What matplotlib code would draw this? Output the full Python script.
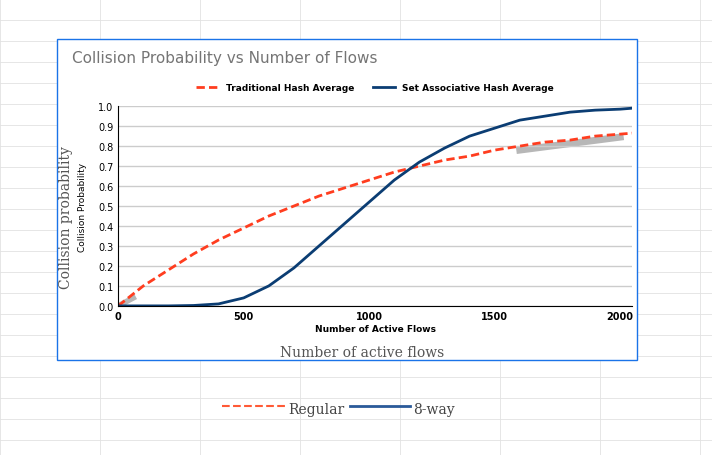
import numpy as np
import matplotlib.pyplot as plt
from matplotlib.patches import Rectangle

flows = [0, 100, 200, 300, 400, 500, 600, 700, 800, 900, 1000, 1100, 1200,
         1300, 1400, 1500, 1600, 1700, 1800, 1900, 2000, 2050]
traditional = [0, .10, .18, .26, .33, .39, .45, .50, .55, .59, .63, .67, .70,
               .73, .75, .78, .80, .82, .83, .85, .86, .865]
set_assoc = [0, 0, 0, .002, .01, .04, .10, .19, .30, .41, .52, .63, .72,
             .79, .85, .89, .93, .95, .97, .98, .985, .99]
yticks = [0, .1, .2, .3, .4, .5, .6, .7, .8, .9, 1.0]
xticks = [0, 500, 1000, 1500, 2000]

fig = plt.figure(figsize=(7.12, 4.56), dpi=100)

# spreadsheet grid behind everything
for y in range(0, 456, 21):
    fig.add_artist(plt.Line2D([0, 1], [1 - y / 456] * 2, color='#e2e2e2', lw=0.6, zorder=-3))
for x in [0, 100, 200, 300, 400, 500, 600, 700]:
    fig.add_artist(plt.Line2D([x / 712] * 2, [0, 1], color='#e2e2e2', lw=0.6, zorder=-3))

# chart card
fig.add_artist(Rectangle((57 / 712, 1 - 361 / 456), 580 / 712, 321 / 456,
                         transform=fig.transFigure, fc='white', ec='#1a73e8', lw=1,
                         zorder=-2))
fig.text(72 / 712, 1 - 63 / 456, "Collision Probability vs Number of Flows",
         fontsize=11, color='#757575')

ax = fig.add_axes([0.166, 0.327, 0.722, 0.438])
ax.set_facecolor('none')
ax.plot(flows, traditional, color='#ff3d1f', lw=2, ls='--', dashes=(3, 1.5),
        label='Traditional Hash Average')
ax.plot(flows, set_assoc, color='#0b3d73', lw=2, label='Set Associative Hash Average')
ax.plot([1600, 2000], [.78, .845], color='#999999', lw=5, alpha=0.7, zorder=1)
ax.plot([0, 60], [0, .04], color='#999999', lw=4, alpha=0.7, zorder=1)
ax.set_xlim(0, 2048)
ax.set_ylim(0, 1.0)
ax.set_xticks(xticks)
ax.set_yticks(yticks)
ax.set_xticklabels([str(t) for t in xticks], fontsize=7, fontweight='bold')
ax.set_yticklabels(['%.1f' % t for t in yticks], fontsize=7)
ax.grid(axis='y', color='#cccccc', lw=1)
for s in ['top', 'right']:
    ax.spines[s].set_visible(False)
ax.tick_params(length=0)
ax.set_xlabel("Number of Active Flows", fontsize=6.5, fontweight='bold', labelpad=2)
ax.set_ylabel("Collision Probability", fontsize=6.5, labelpad=8)
ax.legend(loc='lower center', bbox_to_anchor=(0.5, 1.03), ncol=2, frameon=False,
          prop={'size': 6.5, 'weight': 'bold'}, handlelength=2.5)

# ghost labels from the chart underneath
fig.text(66 / 712, 1 - 218 / 456, "Collision probability", rotation=90, va='center',
         ha='center', family='DejaVu Serif', fontsize=10, color='#555555')
fig.text(362 / 712, 1 - 357 / 456, "Number of active flows", ha='center',
         family='DejaVu Serif', fontsize=10, color='#555555')
fig.text(345 / 712, 1 - 410 / 456, "Regular", ha='right', va='center',
         family='DejaVu Serif', fontsize=10, color='#444444')
fig.add_artist(plt.Line2D([222 / 712, 285 / 712], [1 - 407 / 456] * 2,
                          color='#ff5a36', lw=1.5, ls='--'))
fig.add_artist(plt.Line2D([350 / 712, 410 / 712], [1 - 407 / 456] * 2,
                          color='#2a5a99', lw=2))
fig.text(413 / 712, 1 - 410 / 456, "8-way", va='center',
         family='DejaVu Serif', fontsize=10, color='#444444')

fig.savefig('out.png', dpi=100)
